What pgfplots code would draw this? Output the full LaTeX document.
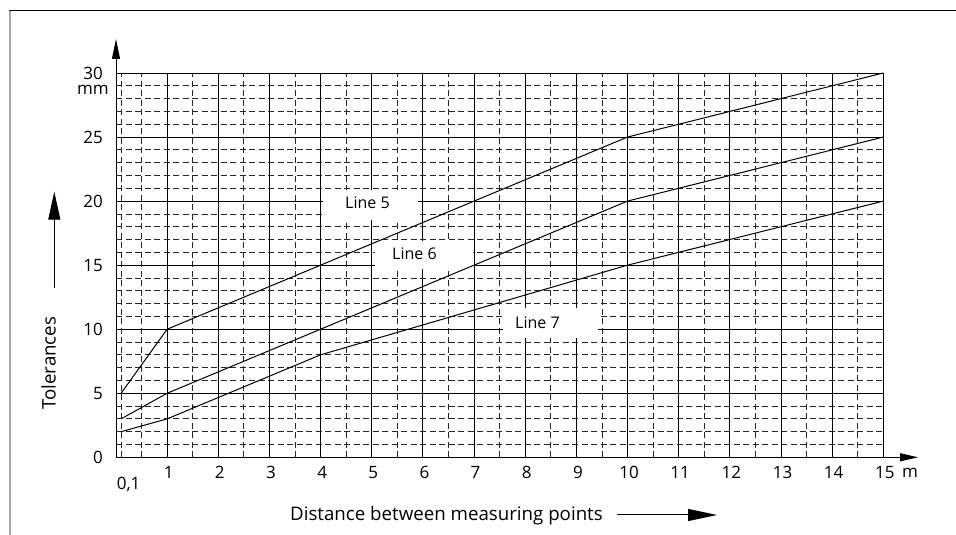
\documentclass[border=0pt]{standalone}
\usepackage{fontspec}
\setmainfont{Open Sans}
\usepackage{pgfplots}
\pgfplotsset{compat=1.18}
\usetikzlibrary{arrows.meta}
\newcommand\myfont{\fontsize{16bp}{19bp}\selectfont}
\newcommand\tickfont{\fontsize{17bp}{20bp}\selectfont}
\newcommand\labfont{\fontsize{18.7bp}{22bp}\selectfont}
\begin{document}
\begin{tikzpicture}[x=1bp,y=1bp,font=\myfont]
\useasboundingbox (0,0) rectangle (956,535);
\draw[gray!70, line width=1.6bp] (10,0) -- (10,524);
\draw[black, line width=1bp] (9.2,524) -- (956,524);
\begin{axis}[
 at={(116bp,77.7bp)}, anchor=south west, scale only axis,
 width=767.3bp, height=384.3bp,
 xmin=0,xmax=15,ymin=0,ymax=30,
 axis line style={draw=none},
 xtick={1,2,3,4,5,6,7,8,9,10,11,12,13,14,15},
 minor xtick={0.1,0.5,1.5,2.5,3.5,4.5,5.5,6.5,7.5,8.5,9.5,10.5,11.5,12.5,13.5,14.5},
 ytick={0,5,10,15,20,25,30},
 minor ytick={1,2,3,4,6,7,8,9,11,12,13,14,16,17,18,19,21,22,23,24,26,27,28,29},
 major tick length=0pt, minor tick length=0pt,
 grid=both,
 major grid style={black, line width=0.9bp},
 minor grid style={black!85, line width=0.8bp, dash pattern=on 6bp off 3.5bp},
 tick label style={font=\tickfont},
 /pgf/number format/assume math mode=true,
 xticklabel style={anchor=north, inner sep=0pt, yshift=-9bp, xshift=1.5bp},
 yticklabel style={anchor=east, inner sep=0pt, xshift=-13bp},
 extra x ticks={0.1}, extra x tick labels={0{,}1},
 extra x tick style={grid=none, xticklabel style={yshift=-11bp, xshift=6bp}},
 clip=false,
]
\fill[white] (axis cs:4.047,18.52) rectangle (axis cs:5.904,20.87);
\node[anchor=west, inner sep=0pt] at (axis cs:4.477,19.85) {Line 5};
\fill[white] (axis cs:5.063,14.70) rectangle (axis cs:6.98,16.89);
\node[anchor=west, inner sep=0pt] at (axis cs:5.396,15.87) {Line 6};
\fill[white] (axis cs:7.566,9.32) rectangle (axis cs:9.423,11.66);
\node[anchor=west, inner sep=0pt] at (axis cs:7.80,10.50) {Line 7};
\addplot[black, line width=1bp] coordinates {(0.1,5) (1,10) (10,25) (15,30)};
\addplot[black, line width=1bp] coordinates {(0.1,3) (1,5) (10,20) (15,25)};
\addplot[black, line width=1bp] coordinates {(0.1,2) (1,3) (4,8) (10,15) (15,20)};
\end{axis}
\draw[line width=1bp, -{Triangle[length=18bp,width=8bp]}] (116,77.7) -- (918,77.7);
\draw[line width=1bp, -{Triangle[length=20bp,width=8bp]}] (116,77.7) -- (116,496);
\node[anchor=base, font=\tickfont] at (910,57.5) {m};
\node[anchor=base, font=\tickfont] at (93,440) {mm};
\node[anchor=base west, inner sep=0pt, font=\labfont] at (290,14) {Distance between measuring points};
\draw[line width=1bp, -{Triangle[length=29bp,width=12bp]}] (617,20) -- (717,20);
\node[rotate=90, anchor=base west, inner sep=0pt, font=\labfont] at (55.5,125) {Tolerances};
\draw[line width=1bp, -{Triangle[length=28bp,width=12bp]}] (54.3,247) -- (54.3,343.3);
\end{tikzpicture}
\end{document}
